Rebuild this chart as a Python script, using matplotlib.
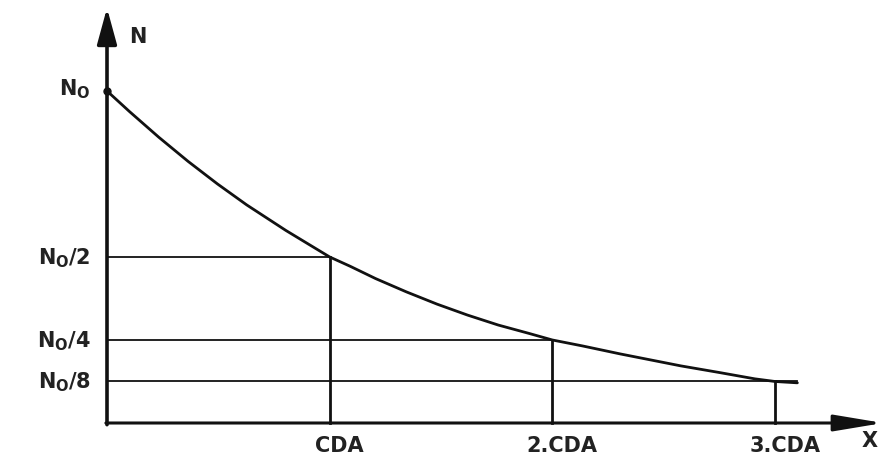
import matplotlib.pyplot as plt

# attenuation curve, N in units of N0, x in units of CDA
curve_x = [0.0, 0.101, 0.232, 0.364, 0.496, 0.627, 0.803, 0.899, 1.0,
           1.092, 1.206, 1.344, 1.482, 1.619, 1.757, 1.894, 2.0,
           2.136, 2.305, 2.441, 2.577, 2.75, 2.909, 3.0, 3.1]
curve_y = [1.0, 0.938, 0.861, 0.788, 0.720, 0.657, 0.580, 0.541, 0.5,
           0.472, 0.435, 0.395, 0.358, 0.325, 0.295, 0.270, 0.25,
           0.232, 0.208, 0.190, 0.172, 0.152, 0.133, 0.125, 0.121]

cda_x = [1, 2, 3]
cda_y = [0.5, 0.25, 0.125]
x_labels = ['CDA', '2.CDA', '3.CDA']
y_labels = [r'N$\mathregular{_O}$/2', r'N$\mathregular{_O}$/4', r'N$\mathregular{_O}$/8']
n8_end = 3.1

plt.close('all')
fig = plt.figure(figsize=(8.86, 4.56), dpi=100)
ax = fig.add_axes([107/886, 32/456, 779/886, 424/456])
ax.set_xlim(0, 3.498)
ax.set_ylim(0, 1.277)
ax.axis('off')

font = dict(family='DejaVu Sans', fontsize=15, fontweight='bold', color='#222222')

# axes with arrow heads
ax.annotate('', xy=(0, 1.25), xytext=(0, -0.005),
            arrowprops=dict(arrowstyle='-|>,head_length=1.1,head_width=0.3',
                            lw=2.6, color='#111111', shrinkA=0, shrinkB=0,
                            mutation_scale=20), annotation_clip=False)
ax.annotate('', xy=(3.485, 0), xytext=(-0.005, 0),
            arrowprops=dict(arrowstyle='-|>,head_length=1.5,head_width=0.25',
                            lw=2.2, color='#111111', shrinkA=0, shrinkB=0,
                            mutation_scale=20), annotation_clip=False)

# decay curve
ax.plot(curve_x, curve_y, color='#111111', lw=2.0, solid_capstyle='round',
        solid_joinstyle='round', clip_on=False)
ax.plot([0], [1.0], 'o', color='#111111', ms=5, clip_on=False)

# guide lines at each CDA
for i, (xv, yv) in enumerate(zip(cda_x, cda_y)):
    xend = n8_end if i == len(cda_x) - 1 else xv
    ax.plot([0, xend], [yv, yv], color='#111111', lw=1.3, clip_on=False)
    ax.plot([xv, xv], [0, yv], color='#111111', lw=2.0, clip_on=False)
    ax.annotate(x_labels[i], xy=(xv, 0), xytext=(7, -16), textcoords='offset points',
                ha='center', va='center', annotation_clip=False, **font)
    ax.annotate(y_labels[i], xy=(0, yv), xytext=(-12, 0), textcoords='offset points',
                ha='right', va='center', annotation_clip=False, **font)

ax.annotate(r'N$\mathregular{_O}$', xy=(0, 1.0), xytext=(-12, 2), textcoords='offset points',
            ha='right', va='center', annotation_clip=False, **font)
ax.annotate('N', xy=(0, 1.25), xytext=(22, -20), textcoords='offset points',
            ha='center', va='center', annotation_clip=False, **font)
ax.annotate('X', xy=(3.485, 0), xytext=(-10, -12), textcoords='offset points',
            ha='center', va='center', annotation_clip=False, **font)

fig.savefig('out.png', dpi=100)
